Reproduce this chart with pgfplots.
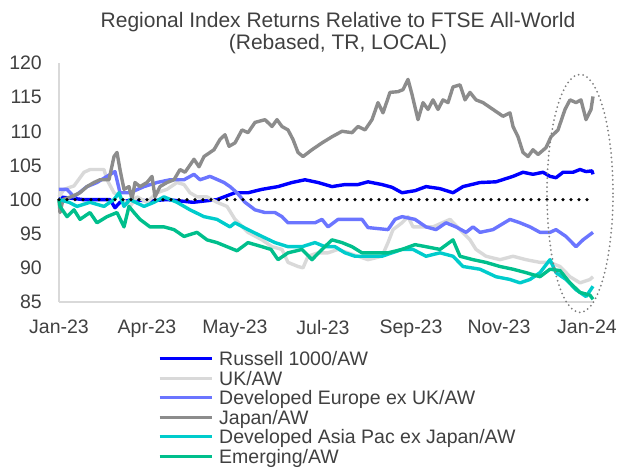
\documentclass[border=0pt]{standalone}
\usepackage{fontspec}
\setmainfont{Liberation Sans}
\usepackage{pgfplots}
\pgfplotsset{compat=1.18}

\definecolor{russell}{HTML}{0000FF}
\definecolor{uk}{HTML}{D9D9D9}
\definecolor{europe}{HTML}{6B75FF}
\definecolor{japan}{HTML}{8C8C8C}
\definecolor{asiapac}{HTML}{00CCCC}
\definecolor{emerging}{HTML}{00BF8C}
\definecolor{baseline}{HTML}{000080}
\definecolor{ringgray}{HTML}{7F7F7F}
\definecolor{axisgray}{HTML}{D9D9D9}
\definecolor{textgray}{HTML}{404040}

\newcommand\chartfont{\fontsize{19.5bp}{19.5bp}\selectfont}
\newcommand\titlefont{\fontsize{21bp}{22bp}\selectfont}

\begin{document}
\begin{tikzpicture}
% page = 619 x 468, plot area lower-left at origin
\useasboundingbox (-59bp,-166bp) rectangle (560bp,302bp);
\begin{axis}[
    scale only axis,
    width=534bp, height=239bp,
    xmin=0, xmax=534,
    ymin=85, ymax=120,
    xtick={0,88,176,264,352,440,528},
    xticklabels={Jan-23,Apr-23,May-23,Jul-23,Sep-23,Nov-23,Jan-24},
    ytick={85,90,...,120},
    axis lines*=left,
    axis line style={draw=axisgray, line width=1.5bp},
    major tick length=0pt,
    tick style={draw=none},
    ticklabel style={font=\chartfont, text=textgray, inner sep=0pt},
    yticklabel style={anchor=east, xshift=-17bp},
    xticklabel style={anchor=north, yshift=-18bp},
    /pgf/number format/assume math mode=true,
    clip=false,
    legend style={at={(0.1854,-0.209)}, anchor=north west,
        draw=none, fill=none, inner sep=0pt,
        font=\chartfont, text=textgray,
        row sep=0pt, column sep=6bp,
        nodes={inner sep=0pt, text height=13.5bp, text depth=6bp}},
    legend cell align=left,
    legend image code/.code={\draw[#1, line width=3bp] (0bp,0.3em) -- (52bp,0.3em);},
    every axis plot/.append style={line width=3.4bp, line join=round},
]
\addplot[russell] coordinates {
    (0,100.4) (24,100.0) (51,100.0) (56,98.8) (61,99.6) (74,100.0) (90,99.8)
    (108,100.0) (134,99.6) (158,100.0) (176,101.0) (189,101.0) (203,101.5)
    (219,101.9) (233,102.5) (246,102.9) (259,102.5) (273,101.9) (286,102.2)
    (299,102.2) (309,102.6) (323,102.2) (333,101.8) (343,101.0) (356,101.3)
    (367,101.9) (381,101.6) (394,101.0) (404,101.9) (421,102.5) (437,102.6)
    (454,103.4) (464,104.0) (474,103.7) (484,104.0) (491,103.4) (497,103.2)
    (504,104.0) (514,104.0) (521,104.4) (527,104.1) (533,104.2) (534,103.7)
};
\addlegendentry{Russell 1000/AW}
\addplot[uk] coordinates {
    (0,100.4) (5,101.5) (15,102.0) (25,104.0) (31,104.4) (45,104.4) (48,102.9)
    (55,101.0) (61,100.4) (71,99.0) (78,100.4) (88,99.6) (98,101.0) (108,101.5)
    (118,102.5) (125,102.2) (131,101.0) (138,100.4) (148,100.4) (158,99.6)
    (168,99.0) (176,97.1) (189,95.2) (203,94.1) (213,93.1) (223,92.7)
    (229,90.8) (239,90.2) (244,90.0) (249,91.7) (259,92.2) (269,92.2)
    (279,92.7) (289,92.2) (299,91.7) (309,91.2) (323,91.7) (329,93.7)
    (334,95.6) (343,96.6) (349,97.5) (354,96.0) (374,96.0) (391,97.1)
    (401,95.6) (411,94.1) (417,92.7) (427,91.7) (441,91.2) (454,91.7)
    (467,91.2) (481,90.8) (491,90.8) (501,90.2) (511,88.7) (521,87.8)
    (531,88.3) (534,88.7)
};
\addlegendentry{UK/AW}
\addplot[europe] coordinates {
    (0,101.5) (8,101.5) (15,100.4) (28,101.9) (38,102.5) (48,103.4) (56,104.1)
    (61,101.0) (71,101.0) (85,101.9) (98,102.5) (111,102.9) (125,102.9)
    (135,103.7) (141,102.9) (151,103.4) (165,102.5) (171,101.9) (178,101.0)
    (186,99.6) (196,98.5) (206,98.1) (216,98.1) (223,97.5) (229,96.6)
    (243,96.6) (256,96.6) (263,97.1) (269,96.0) (279,97.1) (293,97.1)
    (303,97.1) (309,95.9) (329,95.6) (336,97.1) (343,97.5) (356,97.1)
    (367,96.0) (377,95.6) (387,96.6) (397,96.0) (407,95.2) (414,96.0)
    (421,95.2) (434,95.6) (451,97.1) (461,96.6) (471,96.0) (481,95.2)
    (491,95.2) (497,95.6) (507,94.6) (517,93.1) (524,94.1) (534,95.2)
};
\addlegendentry{Developed Europe ex UK/AW}
\addplot[japan] coordinates {
    (0,100.0) (1,98.1) (4,100.0) (12,100.4) (21,101.0) (28,101.9) (35,102.5)
    (41,102.9) (50,102.9) (55,106.3) (58,106.9) (61,104.4) (65,101.5)
    (70,101.9) (73,100.0) (76,102.5) (81,101.9) (88,102.5) (93,103.4)
    (96,100.4) (101,101.9) (108,102.5) (115,102.9) (121,104.4) (126,104.0)
    (135,105.9) (140,104.8) (145,106.3) (155,107.3) (161,108.8) (166,109.5)
    (170,107.8) (176,108.3) (183,110.2) (189,109.8) (196,111.3) (206,111.7)
    (213,110.7) (218,111.7) (223,110.7) (229,110.2) (234,108.8) (239,106.9)
    (244,106.3) (253,107.3) (263,108.3) (273,109.2) (283,110.0) (293,109.8)
    (299,110.7) (306,110.2) (313,111.7) (319,114.2) (324,112.7) (331,115.7)
    (339,115.8) (344,116.1) (349,117.6) (353,115.4) (359,111.7) (364,114.2)
    (369,113.2) (374,114.6) (379,113.2) (384,114.6) (389,114.2) (394,116.5)
    (401,116.8) (406,114.6) (411,115.7) (417,114.6) (424,114.2) (434,113.2)
    (444,112.2) (451,112.7) (454,110.7) (459,109.2) (464,106.9) (469,106.3)
    (474,107.3) (479,106.6) (487,107.6) (492,109.2) (499,110.2) (506,113.2)
    (511,114.6) (517,114.2) (522,114.6) (527,111.7) (532,113.2) (534,115.1)
};
\addlegendentry{Japan/AW}
\addplot[asiapac] coordinates {
    (0,100.0) (10,99.6) (18,99.0) (31,99.6) (45,99.0) (55,100.0) (60,101.0)
    (65,99.0) (71,100.0) (85,99.0) (95,99.6) (105,100.4) (118,99.6) (131,98.5)
    (145,97.5) (158,97.1) (171,96.0) (176,96.6) (189,95.6) (203,94.6)
    (216,93.7) (229,93.1) (243,93.1) (256,93.7) (266,93.1) (276,93.1)
    (286,92.2) (296,91.7) (309,91.7) (323,91.7) (333,92.2) (343,92.7)
    (354,92.7) (367,91.7) (381,92.2) (394,91.7) (404,90.2) (421,89.8)
    (437,88.7) (451,88.3) (461,87.8) (471,88.3) (481,89.3) (491,91.2)
    (497,89.3) (507,88.3) (517,86.8) (527,85.8) (534,87.3)
};
\addlegendentry{Developed Asia Pac ex Japan/AW}
\addplot[emerging] coordinates {
    (0,100.0) (1,99.0) (8,97.5) (15,98.5) (21,97.1) (31,98.1) (38,96.6)
    (48,97.5) (58,98.1) (65,96.0) (70,99.0) (75,98.1) (81,97.1) (91,96.0)
    (105,96.0) (115,95.6) (125,94.6) (138,95.2) (148,94.1) (158,93.7)
    (168,93.1) (178,92.5) (189,93.7) (203,93.1) (212,92.7) (219,91.2)
    (229,92.2) (243,92.7) (253,91.2) (263,92.7) (273,94.1) (283,93.7)
    (293,93.1) (303,92.2) (316,92.2) (329,92.2) (343,92.7) (356,93.4)
    (367,93.1) (381,92.7) (394,94.1) (401,91.7) (414,91.2) (427,90.8)
    (441,90.2) (454,89.8) (467,89.3) (481,88.7) (491,89.8) (501,89.6)
    (511,87.8) (521,86.4) (531,86.0) (534,85.4)
};
\addlegendentry{Emerging/AW}
\addplot[baseline, line width=3.6bp, dash pattern=on 0pt off 8bp, line cap=round, forget plot]
    coordinates {(0,100) (530,100)};
\draw[ringgray, line width=2bp, dash pattern=on 0pt off 4.5bp, line cap=round]
    (axis cs:521,100.9) ellipse [x radius=33bp, y radius=119bp];
\end{axis}
\node[anchor=base, font=\titlefont, text=textgray] at (279bp,274bp)
    {Regional Index Returns Relative to FTSE All-World};
\node[anchor=base, font=\titlefont, text=textgray] at (279bp,252bp)
    {(Rebased, TR, LOCAL)};
\end{tikzpicture}
\end{document}
